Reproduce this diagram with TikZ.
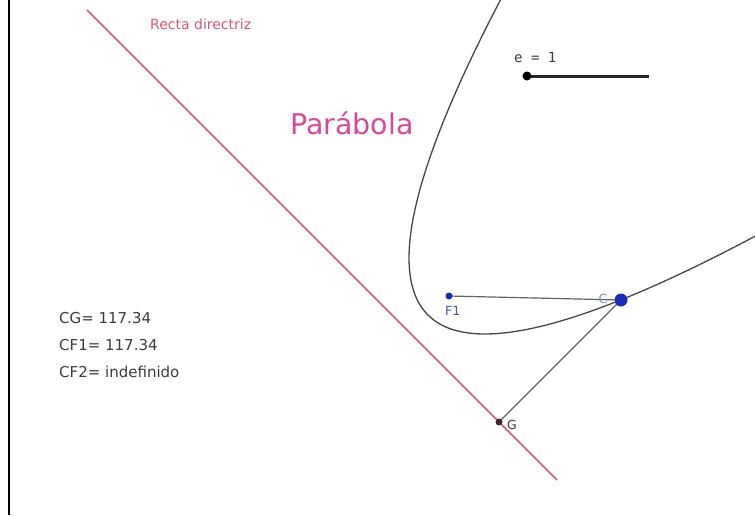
\documentclass[tikz,border=0pt]{standalone}
\usepackage{fontspec}
\setmainfont{DejaVu Sans}
\setmonofont{DejaVu Sans Mono}
\definecolor{dirred}{RGB}{218,88,112}
\definecolor{parpink}{RGB}{214,72,160}
\definecolor{ptblue}{RGB}{25,45,185}
\definecolor{lblblue}{RGB}{70,90,170}
\definecolor{curvegray}{RGB}{70,70,70}
\definecolor{txtgray}{RGB}{60,60,60}
\definecolor{gdark}{RGB}{60,40,40}
\tikzset{
  curve/.style={draw=curvegray, line width=1.3pt},
  seg/.style={draw=curvegray!85, line width=1.2pt},
  info/.style={anchor=west, inner sep=0pt, text=txtgray, font=\fontsize{15}{17}\selectfont},
  ptlbl/.style={inner sep=0pt, font=\fontsize{12.5}{14}\selectfont},
}
\begin{document}
\begin{tikzpicture}[x=1pt,y=-1pt]
\useasboundingbox (0,0) rectangle (755,515);
\fill[white] (0,0) rectangle (755,515);
% left border
\draw[black, line width=2pt] (9,0) -- (9,515);
% directrix
\coordinate (d1) at (87,10);
\coordinate (d2) at (557,480);
\draw[dirred, line width=1.5pt] (d1) -- (d2);
\node[text=dirred, inner sep=0pt, anchor=west, font=\fontsize{14}{16}\selectfont] (rd) at (150,24) {Recta directriz};
% parabola
\begin{scope}
\clip (0,0) rectangle (755,515);
\draw[curve] plot[domain=-174:178, samples=140, smooth, variable=\t]
  ({428+0.7071*((\t/10)*(\t/10)/1.074+\t)},{315+0.7071*(\t-(\t/10)*(\t/10)/1.074)});
\end{scope}
\node[text=parpink, inner sep=0pt, anchor=base west, font=\fontsize{28.5}{32}\selectfont] (par) at (290,134) {Parábola};
% slider
\node[text=txtgray, inner sep=0pt, anchor=base west, font=\ttfamily\fontsize{14}{16}\selectfont] (elbl) at (514,62) {e = 1};
\coordinate (sEnd) at (649,76);
\node[circle, inner sep=0pt, minimum size=9pt] (sdot) at (527,76) {};
\draw[black!85, line width=3pt] (sdot.center) -- (sEnd);
\fill[black] (sdot.center) circle (4.5pt);
% points
\node[circle, inner sep=0pt, minimum size=6pt] (F1) at (449,296) {};
\node[circle, inner sep=0pt, minimum size=6pt] (G) at (499,422) {};
\node[circle, inner sep=0pt, minimum size=12pt] (C) at (621,300) {};
\draw[seg] (F1.center) -- (C.center);
\draw[seg] (C.center) -- (G.center);
\node[ptlbl, text=lblblue!70] (Clbl) at (603,299) {C};
\fill[ptblue] (C.center) circle (6.5pt);
\fill[ptblue] (F1.center) circle (3.5pt);
\fill[gdark] (G.center) circle (3.5pt);
\node[ptlbl, text=lblblue, anchor=west] (F1lbl) at (445,311) {F1};
\node[ptlbl, text=txtgray, anchor=west] (Glbl) at (507,425) {G};
% info texts
\node[info] (t1) at (59,318) {CG= 117.34};
\node[info] (t2) at (59,345) {CF1= 117.34};
\node[info] (t3) at (59,372) {CF2= indefinido};
\end{tikzpicture}
\end{document}
